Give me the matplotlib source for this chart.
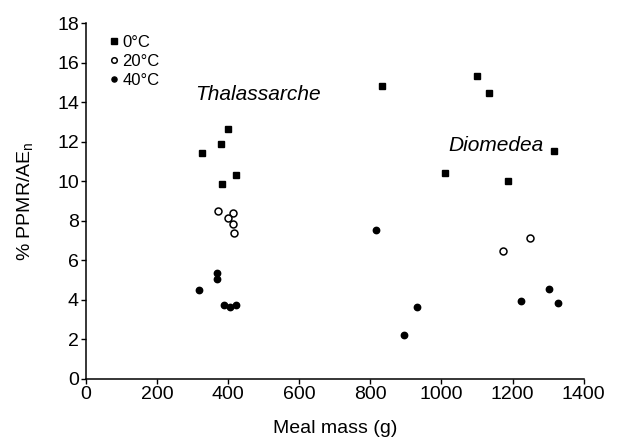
import matplotlib
matplotlib.use("Agg")
import matplotlib.pyplot as plt

plt.rcParams["font.family"] = ["Liberation Sans", "DejaVu Sans"]
plt.rcParams["mathtext.default"] = "regular"

# 0 degC (squares)
mass_0c = [326, 379, 399, 383, 421, 832, 1099, 1134, 1317, 1009, 1188]
ppmr_0c = [11.44, 11.89, 12.65, 9.86, 10.33, 14.84, 15.33, 14.47, 11.52, 10.41, 10.0]

# 20 degC (open circles)
mass_20c = [372, 414, 401, 414, 416, 1250, 1174]
ppmr_20c = [8.49, 8.41, 8.15, 7.83, 7.41, 7.14, 6.46]

# 40 degC (filled circles)
mass_40c = [370, 368, 318, 389, 406, 422, 817, 1303, 1223, 1329, 930, 895]
ppmr_40c = [5.35, 5.04, 4.53, 3.74, 3.63, 3.75, 7.56, 4.55, 3.96, 3.84, 3.63, 2.21]

x_ticks = [0, 200, 400, 600, 800, 1000, 1200, 1400]
y_ticks = [0, 2, 4, 6, 8, 10, 12, 14, 16, 18]

fig = plt.figure(figsize=(6.18, 4.43), dpi=100)
ax = fig.add_axes([0.139, 0.1445, 0.8055, 0.8025])

ax.plot(mass_0c, ppmr_0c, "s", color="black", markersize=4.8, label="0°C", clip_on=False)
ax.plot(mass_20c, ppmr_20c, "o", markerfacecolor="white", markeredgecolor="black",
        markeredgewidth=1.1, markersize=5.0, label="20°C", clip_on=False)
ax.plot(mass_40c, ppmr_40c, "o", color="black", markersize=4.6, label="40°C", clip_on=False)

ax.set_xlim(0, 1400)
ax.set_ylim(0, 18)
ax.set_xticks(x_ticks)
ax.set_yticks(y_ticks)

for side in ["top", "right"]:
    ax.spines[side].set_visible(False)
for side in ["left", "bottom"]:
    ax.spines[side].set_linewidth(1.1)

ax.tick_params(axis="both", direction="out", length=3.5, width=1.0,
               labelsize=14, pad=1.5)

ax.set_xlabel("Meal mass (g)", fontsize=14, labelpad=12)
ax.set_ylabel("% PPMR/AE$_n$", fontsize=14, labelpad=16)

ax.text(307, 14.38, "Thalassarche", fontsize=15, fontstyle="italic",
        ha="left", va="center")
ax.text(1018, 11.81, "Diomedea", fontsize=15, fontstyle="italic",
        ha="left", va="center")

leg = ax.legend(loc="upper left", bbox_to_anchor=(0.048, 0.968), frameon=False,
                fontsize=12, handlelength=0.55, handletextpad=0.2,
                labelspacing=0.25, borderaxespad=0, borderpad=0,
                markerscale=0.8)

fig.savefig("out.png", dpi=100)
